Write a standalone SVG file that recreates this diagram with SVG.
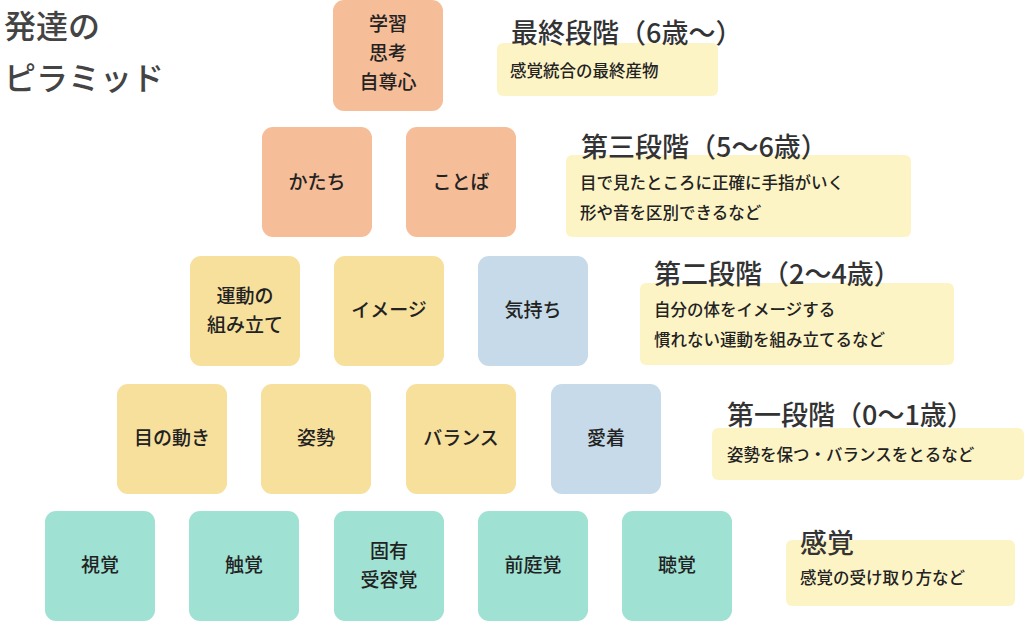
<svg xmlns="http://www.w3.org/2000/svg" width="1024" height="621" viewBox="0 0 1024 621">
<style>
text{font-family:"Noto Sans CJK JP",sans-serif;fill:#222;font-weight:500}
.o{fill:#F5BD98}.y{fill:#F7DF9C}.b{fill:#C6DAE9}.t{fill:#9FE1D3}
.n{fill:#FDF4C6}
.l{font-size:19px;text-anchor:middle}
.h{font-size:27px;fill:#333}
.s{font-size:16.5px}
.T{font-size:32px;fill:#444}
</style>
<g id="title"><text class="T" x="4" y="38">発達の</text><text class="T" x="4" y="90">ピラミッド</text></g>
<g id="n1"><rect class="o" x="333" y="0" width="110" height="111" rx="11"/><text class="l" x="388" y="31">学習</text><text class="l" x="388" y="60">思考</text><text class="l" x="388" y="89">自尊心</text></g>
<g id="n2"><rect class="o" x="262" y="127" width="110" height="110" rx="11"/><text class="l" x="317" y="189">かたち</text></g>
<g id="n3"><rect class="o" x="406" y="127" width="110" height="110" rx="11"/><text class="l" x="461" y="189">ことば</text></g>
<g id="n4"><rect class="y" x="190" y="256" width="110" height="110" rx="11"/><text class="l" x="245" y="303">運動の</text><text class="l" x="245" y="332">組み立て</text></g>
<g id="n5"><rect class="y" x="334" y="256" width="110" height="110" rx="11"/><text class="l" x="389" y="317">イメージ</text></g>
<g id="n6"><rect class="b" x="478" y="256" width="110" height="110" rx="11"/><text class="l" x="533" y="317">気持ち</text></g>
<g id="n7"><rect class="y" x="117" y="384" width="110" height="110" rx="11"/><text class="l" x="172" y="445">目の動き</text></g>
<g id="n8"><rect class="y" x="261" y="384" width="110" height="110" rx="11"/><text class="l" x="316" y="445">姿勢</text></g>
<g id="n9"><rect class="y" x="406" y="384" width="110" height="110" rx="11"/><text class="l" x="461" y="445">バランス</text></g>
<g id="n10"><rect class="b" x="551" y="384" width="110" height="110" rx="11"/><text class="l" x="606" y="445">愛着</text></g>
<g id="n11"><rect class="t" x="45" y="511" width="110" height="110" rx="11"/><text class="l" x="100" y="572">視覚</text></g>
<g id="n12"><rect class="t" x="189" y="511" width="110" height="110" rx="11"/><text class="l" x="244" y="572">触覚</text></g>
<g id="n13"><rect class="t" x="334" y="511" width="110" height="110" rx="11"/><text class="l" x="389" y="558">固有</text><text class="l" x="389" y="587">受容覚</text></g>
<g id="n14"><rect class="t" x="478" y="511" width="110" height="110" rx="11"/><text class="l" x="533" y="572">前庭覚</text></g>
<g id="n15"><rect class="t" x="622" y="511" width="110" height="110" rx="11"/><text class="l" x="677" y="572">聴覚</text></g>
<g id="s1"><rect class="n" x="497" y="43" width="221" height="53" rx="6"/><text class="h" x="511" y="43">最終段階（6歳～）</text><text class="s" x="510" y="77">感覚統合の最終産物</text></g>
<g id="s2"><rect class="n" x="566" y="155" width="345" height="82" rx="6"/><text class="h" x="581" y="157">第三段階（5～6歳）</text><text class="s" x="580" y="189">目で見たところに正確に手指がいく</text><text class="s" x="580" y="219">形や音を区別できるなど</text></g>
<g id="s3"><rect class="n" x="640" y="283" width="314" height="82" rx="6"/><text class="h" x="654" y="284">第二段階（2～4歳）</text><text class="s" x="654" y="316">自分の体をイメージする</text><text class="s" x="654" y="346">慣れない運動を組み立てるなど</text></g>
<g id="s4"><rect class="n" x="712" y="428" width="312" height="52" rx="6"/><text class="h" x="727" y="425">第一段階（0～1歳）</text><text class="s" x="727" y="461">姿勢を保つ・バランスをとるなど</text></g>
<g id="s5"><rect class="n" x="786" y="540" width="229" height="66" rx="6"/><text class="h" x="800" y="553">感覚</text><text class="s" x="800" y="584">感覚の受け取り方など</text></g>
<g id="connectors"/>
</svg>
